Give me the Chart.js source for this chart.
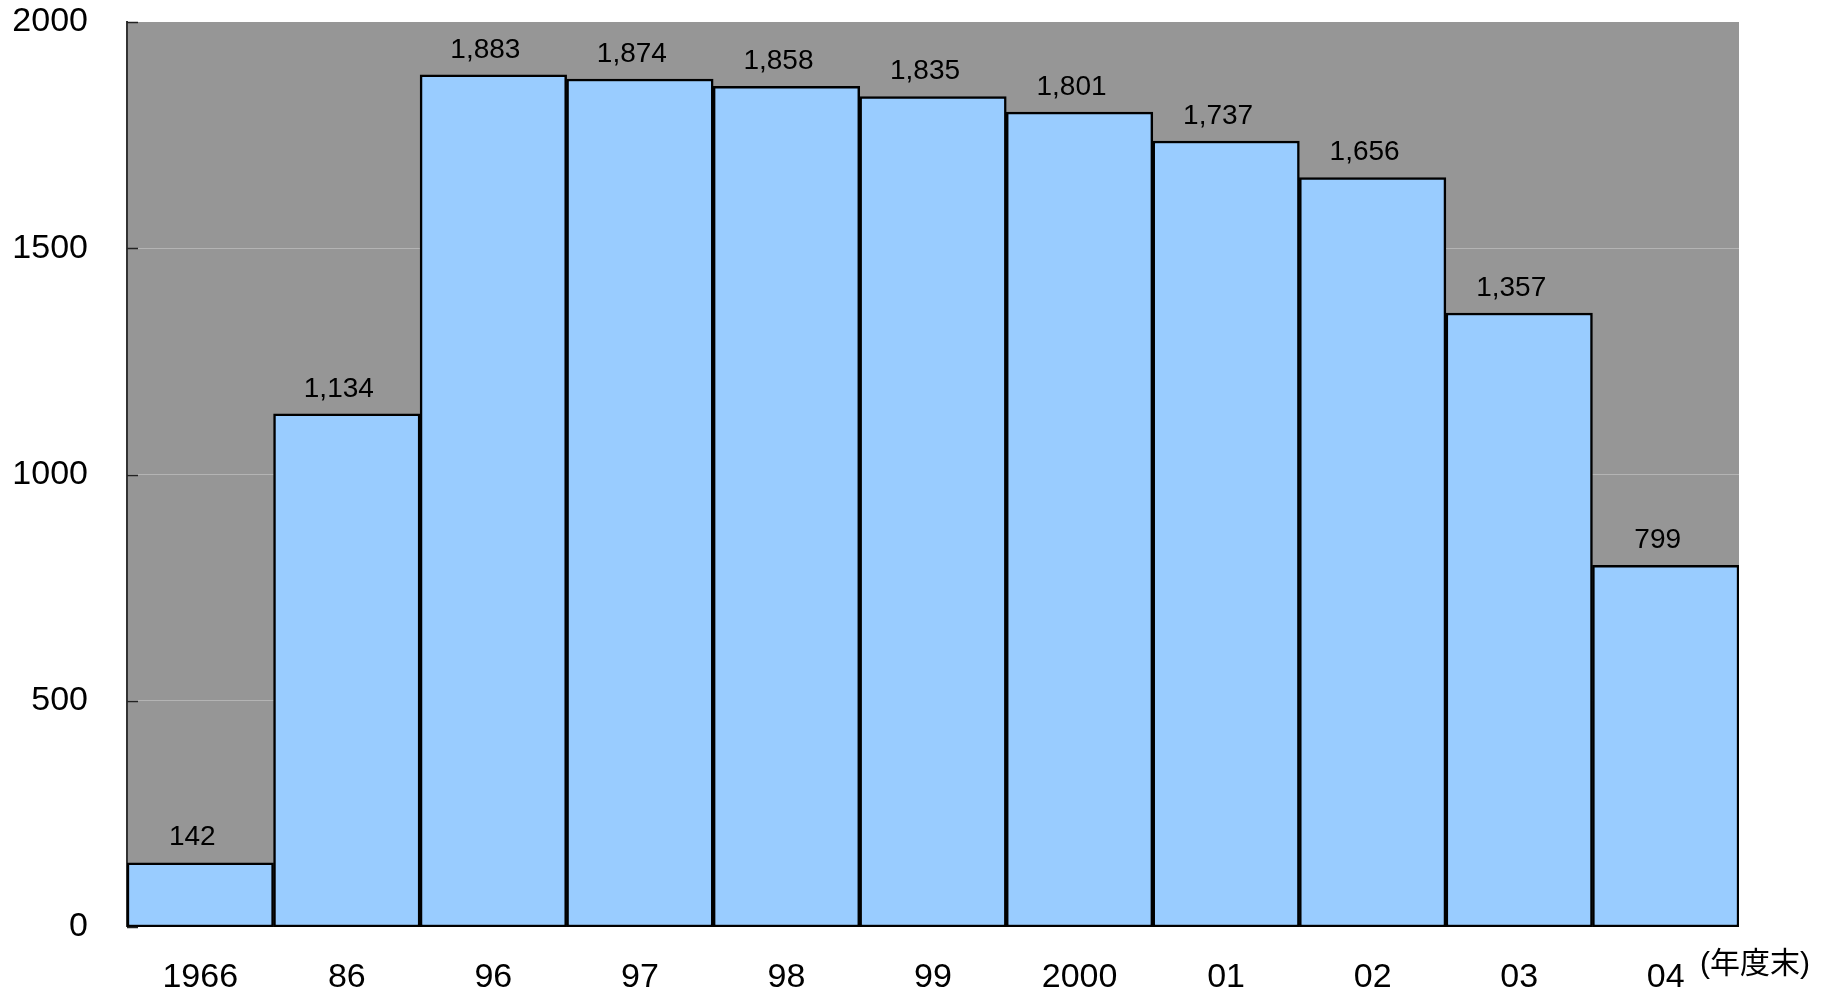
<!DOCTYPE html>
<html lang="ja">
<head>
    <meta charset="UTF-8">
    <title>年度末推移</title>
    <script src="https://cdn.jsdelivr.net/npm/chart.js"></script>
    <style>
        html, body { margin: 0; padding: 0; background: #fff; }
        #wrap { width: 1838px; height: 995px; }
    </style>
</head>
<body>
    <div id="wrap"><canvas id="chart"></canvas></div>

    <script>
        // data
        const years = ['1966', '86', '96', '97', '98', '99', '2000', '01', '02', '03', '04'];
        const counts = [142, 1134, 1883, 1874, 1858, 1835, 1801, 1737, 1656, 1357, 799];
        const yTicks = [0, 500, 1000, 1500, 2000];
        const unitLabel = '(年度末)';

        const fontFamily = "'Liberation Sans', Arial, 'Noto Sans CJK JP', sans-serif";

        // grey plot background
        const plotBg = {
            id: 'plotBg',
            beforeDraw(chart) {
                const a = chart.chartArea;
                const ctx = chart.ctx;
                ctx.save();
                ctx.fillStyle = '#969696';
                ctx.fillRect(a.left, a.top, a.right - a.left, a.bottom - a.top);
                ctx.restore();
            }
        };

        // short inward tick marks on the value axis
        const innerTicks = {
            id: 'innerTicks',
            afterDatasetsDraw(chart) {
                const y = chart.scales.y;
                const a = chart.chartArea;
                const ctx = chart.ctx;
                ctx.save();
                ctx.strokeStyle = '#222';
                ctx.lineWidth = 1.5;
                yTicks.forEach(v => {
                    const py = Math.round(y.getPixelForValue(v)) + 0.5;
                    ctx.beginPath();
                    ctx.moveTo(a.left, py);
                    ctx.lineTo(a.left + 11, py);
                    ctx.stroke();
                });
                ctx.restore();
            }
        };

        // value labels above bars + unit note
        const valueLabels = {
            id: 'valueLabels',
            afterDraw(chart) {
                const ctx = chart.ctx;
                const meta = chart.getDatasetMeta(0);
                ctx.save();
                ctx.fillStyle = '#000';
                ctx.font = '28px ' + fontFamily;
                ctx.textAlign = 'center';
                ctx.textBaseline = 'middle';
                meta.data.forEach((bar, i) => {
                    ctx.fillText(counts[i].toLocaleString('en-US'), bar.x - 8, bar.y - 25);
                });
                ctx.font = '30px ' + fontFamily;
                ctx.textAlign = 'left';
                ctx.fillText(unitLabel, 1700, 965);
                ctx.restore();
            }
        };

        new Chart(document.getElementById('chart'), {
            type: 'bar',
            data: {
                labels: years,
                datasets: [{
                    data: counts,
                    backgroundColor: '#99ccff',
                    borderColor: '#000',
                    borderWidth: 2.5,
                    borderSkipped: false,
                    barPercentage: 1,
                    categoryPercentage: 1
                }]
            },
            options: {
                responsive: true,
                maintainAspectRatio: false,
                animation: false,
                layout: { padding: { top: 22, right: 99, left: 0, bottom: 0 } },
                plugins: {
                    legend: { display: false },
                    tooltip: { enabled: false }
                },
                scales: {
                    x: {
                        grid: { display: false, drawTicks: false },
                        border: { display: false },
                        ticks: {
                            color: '#000',
                            font: { size: 34, family: fontFamily },
                            padding: 30,
                            maxRotation: 0
                        },
                        afterFit(scale) {
                            scale.height = 68;
                            scale.paddingLeft = 0;
                            scale.paddingRight = 0;
                        }
                    },
                    y: {
                        min: 0,
                        max: 2000,
                        afterBuildTicks(scale) {
                            scale.ticks = yTicks.map(v => ({ value: v }));
                        },
                        grid: {
                            color: '#b4b4b4',
                            lineWidth: ctx => (ctx.tick && (ctx.tick.value === 0 || ctx.tick.value === 2000)) ? 0 : 1,
                            drawTicks: false
                        },
                        border: { display: true, color: '#333', width: 2 },
                        ticks: {
                            color: '#000',
                            font: { size: 34, family: fontFamily },
                            padding: 39,
                            callback: v => String(v)
                        },
                        afterFit(scale) {
                            scale.width = 127;
                            scale.paddingTop = 0;
                            scale.paddingBottom = 0;
                        }
                    }
                }
            },
            plugins: [plotBg, innerTicks, valueLabels]
        });
    </script>
</body>
</html>
